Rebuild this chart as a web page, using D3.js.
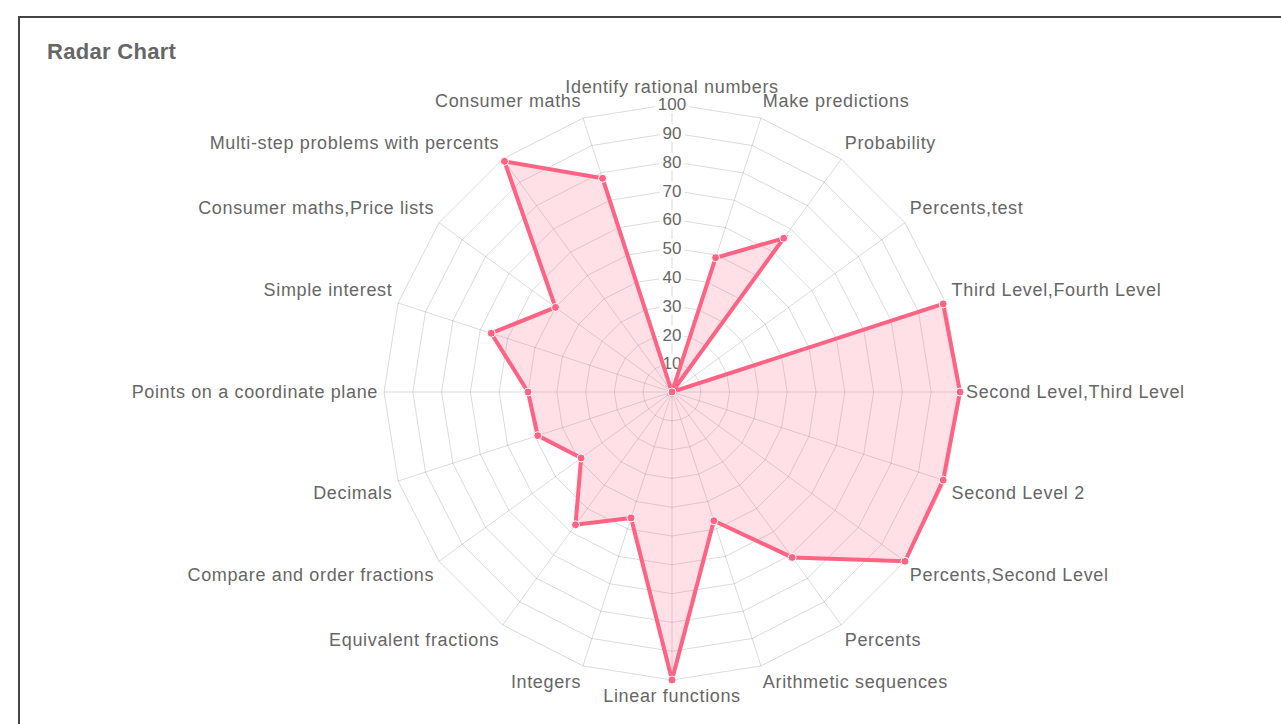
<!DOCTYPE html>
<html>
<head>
<meta charset="utf-8">
<script src="https://cdn.jsdelivr.net/npm/d3@7"></script>
<style>
  body { margin: 0; background: #fff; }
  svg { display: block; }
  text { font-family: "Liberation Sans", Arial, Helvetica, sans-serif; fill: #666; }
</style>
</head>
<body>
<svg></svg>
<script>
let labels = [
  "Identify rational numbers", "Make predictions", "Probability", "Percents,test",
  "Third Level,Fourth Level", "Second Level,Third Level", "Second Level 2",
  "Percents,Second Level", "Percents", "Arithmetic sequences", "Linear functions",
  "Integers", "Equivalent fractions", "Compare and order fractions", "Decimals",
  "Points on a coordinate plane", "Simple interest", "Consumer maths,Price lists",
  "Multi-step problems with percents", "Consumer maths"
];
let scores = [0, 49, 66, 0, 99, 100, 99, 100, 71, 47, 100, 46, 57, 39, 49, 50, 66, 50, 99, 78];
let ticks = [10, 20, 30, 40, 50, 60, 70, 80, 90, 100];

let width = 1281;
let height = 724;
let cx = 672;
let cy = 392;
let radius = 288;
let pink = "rgb(255, 99, 132)";

let svg = d3.select("svg").attr("width", width).attr("height", height);

// frame round the chart (runs off the right and bottom)
svg.append("rect")
  .attr("x", 19).attr("y", 17)
  .attr("width", 1400).attr("height", 900)
  .attr("fill", "none")
  .attr("stroke", "#444")
  .attr("stroke-width", 2);

svg.append("text")
  .attr("x", 47).attr("y", 59)
  .style("font-size", "22px")
  .style("font-weight", "bold")
  .style("letter-spacing", "0.3px")
  .text("Radar Chart");

let rScale = d3.scaleLinear().domain([0, 100]).range([0, radius]);
let angle = d3.scaleLinear().domain([0, labels.length]).range([0, 2 * Math.PI]);

let g = svg.append("g").attr("transform", `translate(${cx}, ${cy})`);

function pos(i, r) {
  let a = angle(i);
  return [r * Math.sin(a), -r * Math.cos(a)];
}

// grid rings
let ring = d3.lineRadial()
  .angle((d, i) => angle(i))
  .radius((d) => d)
  .curve(d3.curveLinearClosed);

g.selectAll(".ring")
  .data(ticks)
  .enter()
  .append("path")
  .attr("class", "ring")
  .attr("d", (t) => ring(labels.map(() => rScale(t))))
  .attr("fill", "none")
  .attr("stroke", "rgba(0,0,0,0.14)")
  .attr("stroke-width", 1);

// angle lines
g.selectAll(".spoke")
  .data(labels)
  .enter()
  .append("line")
  .attr("class", "spoke")
  .attr("x1", 0).attr("y1", 0)
  .attr("x2", (d, i) => pos(i, rScale(100))[0])
  .attr("y2", (d, i) => pos(i, rScale(100))[1])
  .attr("stroke", "rgba(0,0,0,0.14)")
  .attr("stroke-width", 1);

// tick labels with backdrop
let tickG = g.selectAll(".tick")
  .data(ticks)
  .enter()
  .append("g")
  .attr("class", "tick")
  .attr("transform", (t) => `translate(0, ${-rScale(t)})`);

tickG.append("rect")
  .attr("x", (t) => -String(t).length * 4.7 - 3)
  .attr("y", -9)
  .attr("width", (t) => String(t).length * 9.4 + 6)
  .attr("height", 18)
  .attr("fill", "#fff");

tickG.append("text")
  .attr("text-anchor", "middle")
  .attr("dy", "0.36em")
  .style("font-size", "17px")
  .text((t) => t);

// point labels
function align(i) {
  let deg = (i * 360) / labels.length;
  if (deg === 0 || deg === 180) return "middle";
  return deg < 180 ? "start" : "end";
}
function baseline(i) {
  let deg = (i * 360) / labels.length;
  if (deg === 90 || deg === 270) return "0.36em";
  if (deg < 90 || deg > 270) return "-0.3em";
  return "0.9em";
}

g.selectAll(".plabel")
  .data(labels)
  .enter()
  .append("text")
  .attr("class", "plabel")
  .attr("x", (d, i) => pos(i, radius + 6)[0])
  .attr("y", (d, i) => pos(i, radius + 6)[1])
  .attr("text-anchor", (d, i) => align(i))
  .attr("dy", (d, i) => baseline(i))
  .style("font-size", "18px")
  .style("letter-spacing", "0.65px")
  .text((d) => d);

// data area
let area = d3.lineRadial()
  .angle((d, i) => angle(i))
  .radius((d) => rScale(d))
  .curve(d3.curveLinearClosed);

g.append("path")
  .attr("d", area(scores))
  .attr("fill", "rgba(255, 99, 132, 0.2)")
  .attr("stroke", pink)
  .attr("stroke-width", 4)
  .attr("stroke-linejoin", "miter");

g.selectAll(".pt")
  .data(scores)
  .enter()
  .append("circle")
  .attr("class", "pt")
  .attr("cx", (d, i) => pos(i, rScale(d))[0])
  .attr("cy", (d, i) => pos(i, rScale(d))[1])
  .attr("r", 4)
  .attr("fill", pink)
  .attr("stroke", "#fff")
  .attr("stroke-width", 1);
</script>
</body>
</html>
